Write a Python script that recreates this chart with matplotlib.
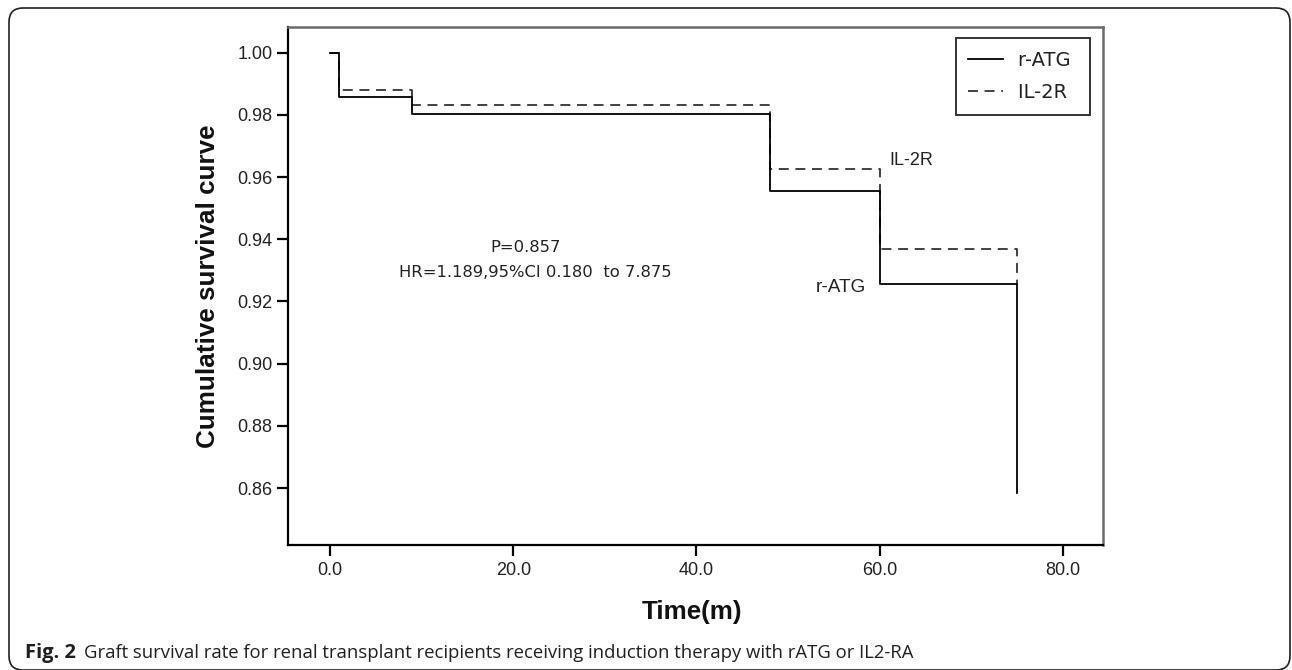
import matplotlib
matplotlib.use("Agg")
import matplotlib.pyplot as plt
from matplotlib.patches import FancyBboxPatch

# ---- data ----
ratg_time = [0, 1, 9, 48, 60, 75]
ratg_surv = [1.0, 0.9859, 0.9802, 0.9555, 0.9255, 0.8585]
il2r_time = [0, 1, 9, 48, 60, 75]
il2r_surv = [1.0, 0.9880, 0.9832, 0.9625, 0.9370, 0.9255]
x_ticks = [0, 20, 40, 60, 80]
y_ticks = [0.86, 0.88, 0.90, 0.92, 0.94, 0.96, 0.98, 1.00]
series_names = ["r-ATG", "IL-2R"]
p_text = "P=0.857"
hr_text = "HR=1.189,95%CI 0.180  to 7.875"
caption_bold = "Fig. 2"
caption_rest = ("Graft survival rate for renal transplant recipients receiving "
                "induction therapy with rATG or IL2-RA")

W, H = 1292, 670
fig = plt.figure(figsize=(W / 100, H / 100), dpi=100)
fig.patch.set_facecolor("white")

ax = fig.add_axes([288 / W, (H - 545) / H, 815 / W, 518 / H])

dark = "#222222"
ax.step(il2r_time, il2r_surv, where="post", color="#333333", lw=1.3,
        ls=(0, (5.5, 3.7)), label=series_names[1], zorder=2)
ax.step(ratg_time, ratg_surv, where="post", color="black", lw=1.3,
        label=series_names[0], zorder=3)

ax.set_xlim(-4.59, 84.39)
ax.set_ylim(0.8417, 1.00825)
ax.set_xticks(x_ticks)
ax.set_xticklabels([f"{v:.1f}" for v in x_ticks])
ax.set_yticks(y_ticks)
ax.set_yticklabels([f"{v:.2f}" for v in y_ticks])

for lab in ax.get_xticklabels() + ax.get_yticklabels():
    lab.set_family("Liberation Sans")
    lab.set_fontsize(13)
    lab.set_color(dark)
ax.tick_params(axis="both", direction="out", length=8, width=1.6, color="black")
ax.tick_params(axis="y", pad=3)
ax.tick_params(axis="x", pad=4)

for s in ["left", "bottom"]:
    ax.spines[s].set_color("black")
    ax.spines[s].set_linewidth(1.6)
for s in ["top", "right"]:
    ax.spines[s].set_color("#6a6a6a")
    ax.spines[s].set_linewidth(1.8)

# legend: r-ATG first, then IL-2R
h, l = ax.get_legend_handles_labels()
order = [l.index(series_names[0]), l.index(series_names[1])]
leg = ax.legend([h[i] for i in order], [l[i] + " " for i in order],
                loc="upper right", bbox_to_anchor=(0.984, 0.979),
                prop={"family": "DejaVu Sans", "size": 14},
                frameon=True, fancybox=False, edgecolor="black",
                handlelength=1.75, handletextpad=0.82, labelspacing=0.7,
                borderpad=0.65, borderaxespad=0.0)
leg.get_frame().set_linewidth(1.4)
for t in leg.get_texts():
    t.set_color(dark)

# annotations
ax.text(21.3, 0.9375, p_text, ha="center", va="center",
        family="DejaVu Sans", fontsize=11.8, color=dark)
ax.text(22.4, 0.9292, hr_text, ha="center", va="center",
        family="DejaVu Sans", fontsize=11.8, color=dark)
ax.text(61.1, 0.9652, series_names[1], ha="left", va="center",
        family="Liberation Sans", fontsize=13, color=dark)
ax.text(53.06, 0.9246, series_names[0], ha="left", va="center",
        family="Liberation Sans", fontsize=13.7, color=dark)

# axis titles
fig.text(208 / W, 1 - 286 / H, "Cumulative survival curve", rotation=90,
         ha="center", va="center", family="Liberation Sans",
         fontweight="bold", fontsize=18.7, color="#111111")
fig.text(692 / W, 1 - 612 / H, "Time(m)", ha="center", va="center",
         family="Liberation Sans", fontweight="bold", fontsize=18.7,
         color="#111111")

# caption
fig.text(25 / W, 1 - 653 / H, caption_bold, ha="left", va="center",
         family="Open Sans", fontweight="bold", fontsize=14.5, color="#231f20")
fig.text(84 / W, 1 - 653 / H, caption_rest, ha="left", va="center",
         family="Open Sans", fontsize=13.3, color="#231f20")

# rounded outer panel border
border = FancyBboxPatch((9, 0), 1281, 662,
                        boxstyle="round,pad=0,rounding_size=14",
                        transform=None, fill=False, edgecolor="#231f20",
                        linewidth=1.2)
fig.add_artist(border)

fig.savefig("out.png", dpi=100, facecolor="white")
